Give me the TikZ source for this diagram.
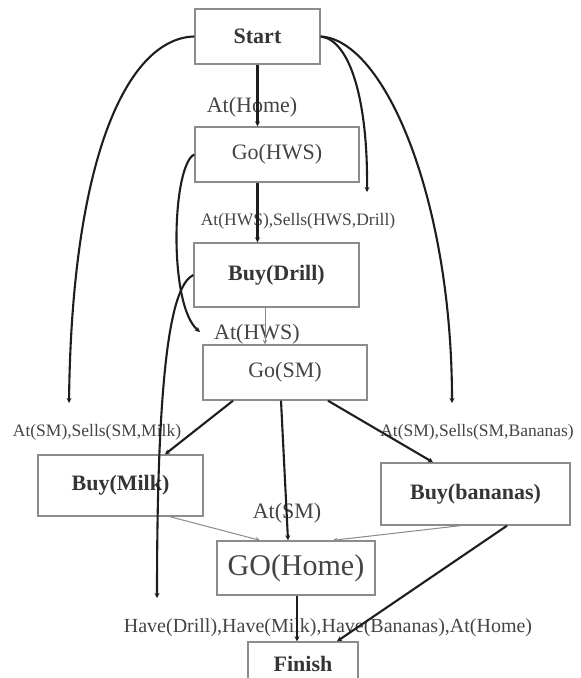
\documentclass[tikz,border=0pt]{standalone}
\usepackage{fontspec}
\setmainfont{Liberation Serif}
\usetikzlibrary{arrows.meta}
\definecolor{ink}{HTML}{1E1E1E}
\definecolor{txt}{HTML}{444444}
\definecolor{boxline}{HTML}{8C8C8C}
\definecolor{thinline}{HTML}{8A8A8A}
\begin{document}
\begin{tikzpicture}[x=1pt,y=-1pt,
  box/.style={draw=boxline, line width=1.4pt, inner sep=0pt, text=txt},
  bold/.style={font=\fontsize{22}{24}\selectfont\bfseries, text=ink!90},
  plain/.style={font=\fontsize{22}{24}\selectfont},
  lbl/.style={inner sep=0pt, text=txt},
  big/.style={font=\fontsize{22}{24}\selectfont},
  small/.style={font=\fontsize{17.5}{19}\selectfont},
  link/.style={draw=ink, line width=2.1pt, -{Stealth[length=5pt,width=5pt]}},
  weak/.style={draw=thinline, line width=1pt, -{Stealth[length=4.5pt,width=4.5pt]}}
]
\clip (0,0) rectangle (581,678);
\fill[white] (0,0) rectangle (581,678);

% plan steps
\node[box, bold, minimum width=125pt, minimum height=55pt] (start) at (257.5,36.5) {Start};
\node[box, plain, minimum width=164pt, minimum height=55pt] (gohws) at (277,154.5) {Go(HWS)};
\node[box, bold, minimum width=165pt, minimum height=64pt] (buydrill) at (276.5,275) {Buy(Drill)};
\node[box, plain, minimum width=164pt, minimum height=55pt] (gosm) at (285,372.5) {Go(SM)};
\node[box, bold, minimum width=165pt, minimum height=61pt] (buymilk) at (120.5,485.5) {Buy(Milk)};
\node[box, bold, minimum width=189pt, minimum height=62pt] (buyban) at (475.5,494) {Buy(bananas)};
\node[box, font=\fontsize{30}{32}\selectfont, minimum width=158pt, minimum height=54pt] (gohome) at (296,568) {GO(Home)};
\node[box, bold, minimum width=110pt, minimum height=44pt] (finish) at (303,664) {Finish};

% preconditions
\node[lbl, big] (lhome) at (252,107) {At(Home)};
\node[lbl, small] (lhwsdrill) at (298,221) {At(HWS),Sells(HWS,Drill)};
\node[lbl, big] (lhws) at (257,334) {At(HWS)};
\node[lbl, small] (lmilk) at (97,432) {At(SM),Sells(SM,Milk)};
\node[lbl, small] (lban) at (477,432) {At(SM),Sells(SM,Bananas)};
\node[lbl, big] (lsm) at (287,513) {At(SM)};
\node[lbl, font=\fontsize{20}{22}\selectfont] (lhave) at (328,628) {Have(Drill),Have(Milk),Have(Bananas),At(Home)};

% ends of the long causal links
\coordinate (cmilk) at (69,403);
\coordinate (cdrill2) at (367,192);
\coordinate (cban) at (452,403);
\coordinate (chws) at (200,332);
\coordinate (cdrill) at (157,598);

% straight links
\draw[link] (start.south) -- (start.south |- gohws.north);
\draw[link] (start.south |- gohws.south) -- (start.south |- buydrill.north);
\draw[weak] ([xshift=-11.5pt]buydrill.south) -- ([xshift=-11.5pt]buydrill.south |- gosm.north);
\draw[link] ([xshift=-52pt]gosm.south) -- ([xshift=44.5pt]buymilk.north);
\draw[link] ([xshift=-4pt]gosm.south) -- ([xshift=-8pt]gohome.north);
\draw[link] ([xshift=43pt]gosm.south) -- ([xshift=-42.5pt]buyban.north);
\draw[weak] ([xshift=49.5pt]buymilk.south) -- ([xshift=-36pt]gohome.north);
\draw[weak] ([xshift=-15.5pt]buyban.south) -- ([xshift=37pt]gohome.north);
\draw[link] ([xshift=1pt]gohome.south) -- ([xshift=-6pt]finish.north);
\draw[link] ([xshift=31.5pt]buyban.south) -- ([xshift=34pt]finish.north);

% curved links
\draw[link] (start.west) .. controls (130,38) and (72,150) .. (cmilk);
\draw[link] (start.east) .. controls (350,40) and (368,100) .. (cdrill2);
\draw[link] (start.east) .. controls (385,40) and (452,200) .. (cban);
\draw[link] (gohws.west) .. controls (172,165) and (168,305) .. (chws);
\draw[link] (buydrill.west) .. controls (172,285) and (157,360) .. (cdrill);
\end{tikzpicture}
\end{document}
